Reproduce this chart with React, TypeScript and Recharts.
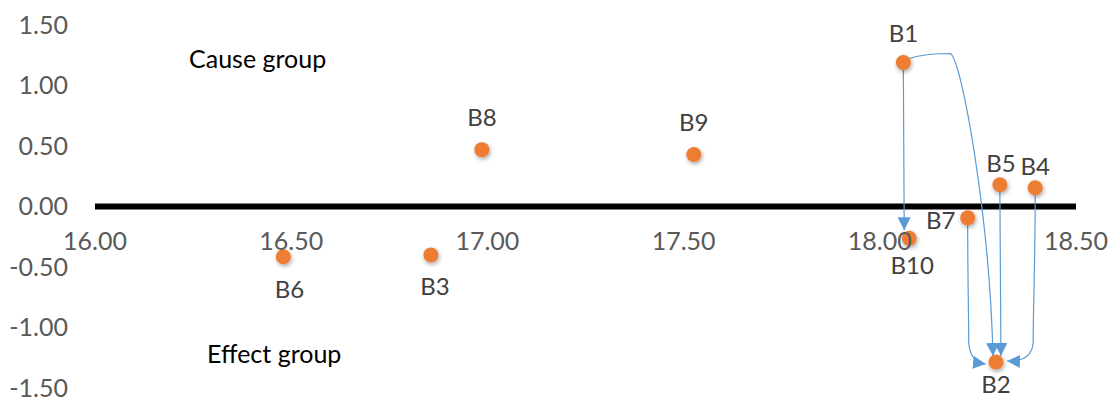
import { ScatterChart, Scatter, XAxis, YAxis, ReferenceLine } from "recharts"

const names = ["B1", "B2", "B3", "B4", "B5", "B6", "B7", "B8", "B9", "B10"]
const xValues = [18.06, 18.296, 16.856, 18.396, 18.306, 16.48, 18.224, 16.986, 17.526, 18.075]
const yValues = [1.19, -1.285, -0.4, 0.155, 0.18, -0.415, -0.094, 0.47, 0.43, -0.263]
const xTicks = [16, 16.5, 17, 17.5, 18, 18.5]
const yTicks = [-1.5, -1, -0.5, 0, 0.5, 1, 1.5]

// influence arrows (from -> to)
const links = [
  ["B1", "B10"],
  ["B1", "B2"],
  ["B5", "B2"],
  ["B4", "B2"],
  ["B7", "B2"],
]

const points = names.map((name, i) => ({ name, x: xValues[i], y: yValues[i] }))
const byName = Object.fromEntries(points.map((p) => [p.name, p]))

// label offset from marker centre
const labelOffset: Record<string, [number, number]> = {
  B1: [0, -29], B8: [0, -32], B9: [0, -32], B5: [1, -21], B4: [0, -21],
  B6: [6, 33], B3: [4, 32], B10: [3, 27], B7: [-27, 3], B2: [0, 22],
}

const W = 1111
const H = 401
const TOP = 25
const BOTTOM = 13
const PLOT_H = H - TOP - BOTTOM
const ZERO_Y = TOP + PLOT_H / 2
const FONT = "Lato, 'Open Sans', sans-serif"
const BLUE = "#5B9BD5"
const ORANGE = "#ED7D31"

function arrowPath(key: string, x1: number, y1: number, x2: number, y2: number) {
  switch (key) {
    case "B1-B10":
      return `M${x1},${y1 + 7} L${x2 - 5},${y2 - 8}`
    case "B1-B2":
      return `M${x1 + 6},${y1 - 4} C${x1 + 18},${y1 - 8} ${x1 + 35},${y1 - 9} ${x1 + 47},${y1 - 9} C${x1 + 59},${y1 - 2} ${x2 - 6},${y2 - 140} ${x2 - 3},${y2 - 6}`
    case "B5-B2":
      return `M${x1},${y1 + 7} L${x2 + 5},${y2 - 6}`
    case "B4-B2":
      return `M${x1},${y1 + 7} C${x1},${y1 + 80} ${x1 - 2},${y2 - 60} ${x1 - 2},${y2 - 20} Q${x1 - 3},${y2} ${x2 + 11},${y2 - 1}`
    default:
      return `M${x1},${y1 + 7} C${x1},${y1 + 60} ${x1 + 1},${y2 - 50} ${x1 + 1},${y2 - 20} Q${x1 + 2},${y2} ${x2 - 10},${y2 + 2}`
  }
}

const Arrow = (key: string) => (props: any) => {
  const { x1, y1, x2, y2 } = props
  const id = `head-${key}`
  return (
    <g>
      <defs>
        <marker id={id} viewBox="0 0 12 12" refX={12} refY={6} markerWidth={13} markerHeight={13} markerUnits="userSpaceOnUse" orient="auto">
          <path d="M0,0 L12,6 L0,12 z" fill={BLUE} />
        </marker>
      </defs>
      <path d={arrowPath(key, x1, y1, x2, y2)} fill="none" stroke={BLUE} strokeWidth={1.2} markerEnd={`url(#${id})`} />
    </g>
  )
}

const Dot = (props: any) => {
  const { cx, cy, payload } = props
  const [dx, dy] = labelOffset[payload.name] || [0, -30]
  return (
    <g>
      <defs>
        <filter id="dotShadow" x="-100%" y="-100%" width="300%" height="300%">
          <feDropShadow dx={1} dy={2} stdDeviation={2} floodColor="#000" floodOpacity={0.35} />
        </filter>
      </defs>
      <circle cx={cx} cy={cy} r={7.5} fill={ORANGE} filter="url(#dotShadow)" />
      <text x={cx + dx} y={cy + dy} dy="0.355em" textAnchor="middle" fontFamily={FONT} fontSize={24} fill="#404040">
        {payload.name}
      </text>
    </g>
  )
}

const XTick = (props: any) => {
  const { x, payload } = props
  return (
    <text x={x} y={ZERO_Y + 35} dy="0.355em" textAnchor="middle" fontFamily={FONT} fontSize={25} fill="#595959">
      {Number(payload.value).toFixed(2)}
    </text>
  )
}

export default function App() {
  return (
    <div style={{ position: "absolute", left: 0, top: 0, width: W, height: H, background: "#fff" }}>
      <ScatterChart width={W} height={H} margin={{ top: TOP, right: 35, bottom: 0, left: 0 }}>
        <XAxis
          type="number"
          dataKey="x"
          domain={[16, 18.5]}
          ticks={xTicks}
          height={BOTTOM}
          axisLine={false}
          tickLine={false}
          tick={<XTick />}
          interval={0}
        />
        <YAxis
          type="number"
          dataKey="y"
          domain={[-1.5, 1.5]}
          ticks={yTicks}
          width={95}
          axisLine={false}
          tickLine={false}
          tickSize={0}
          tickMargin={27}
          interval={0}
          tickFormatter={(v: number) => v.toFixed(2)}
          tick={{ fontFamily: FONT, fontSize: 25, fill: "#595959" }}
        />
        <ReferenceLine y={0} stroke="#000" strokeWidth={6} />
        {links.map(([from, to]) => (
          <ReferenceLine
            key={`${from}-${to}`}
            segment={[
              { x: byName[from].x, y: byName[from].y },
              { x: byName[to].x, y: byName[to].y },
            ]}
            shape={Arrow(`${from}-${to}`)}
          />
        ))}
        <Scatter data={points} shape={<Dot />} isAnimationActive={false} />
      </ScatterChart>
      <div style={{ position: "absolute", left: 189, top: 58, transform: "translateY(-50%)", fontFamily: FONT, fontSize: 25, color: "#000", whiteSpace: "nowrap" }}>
        Cause group
      </div>
      <div style={{ position: "absolute", left: 207, top: 353, transform: "translateY(-50%)", fontFamily: FONT, fontSize: 25, color: "#000", whiteSpace: "nowrap" }}>
        Effect group
      </div>
    </div>
  )
}
